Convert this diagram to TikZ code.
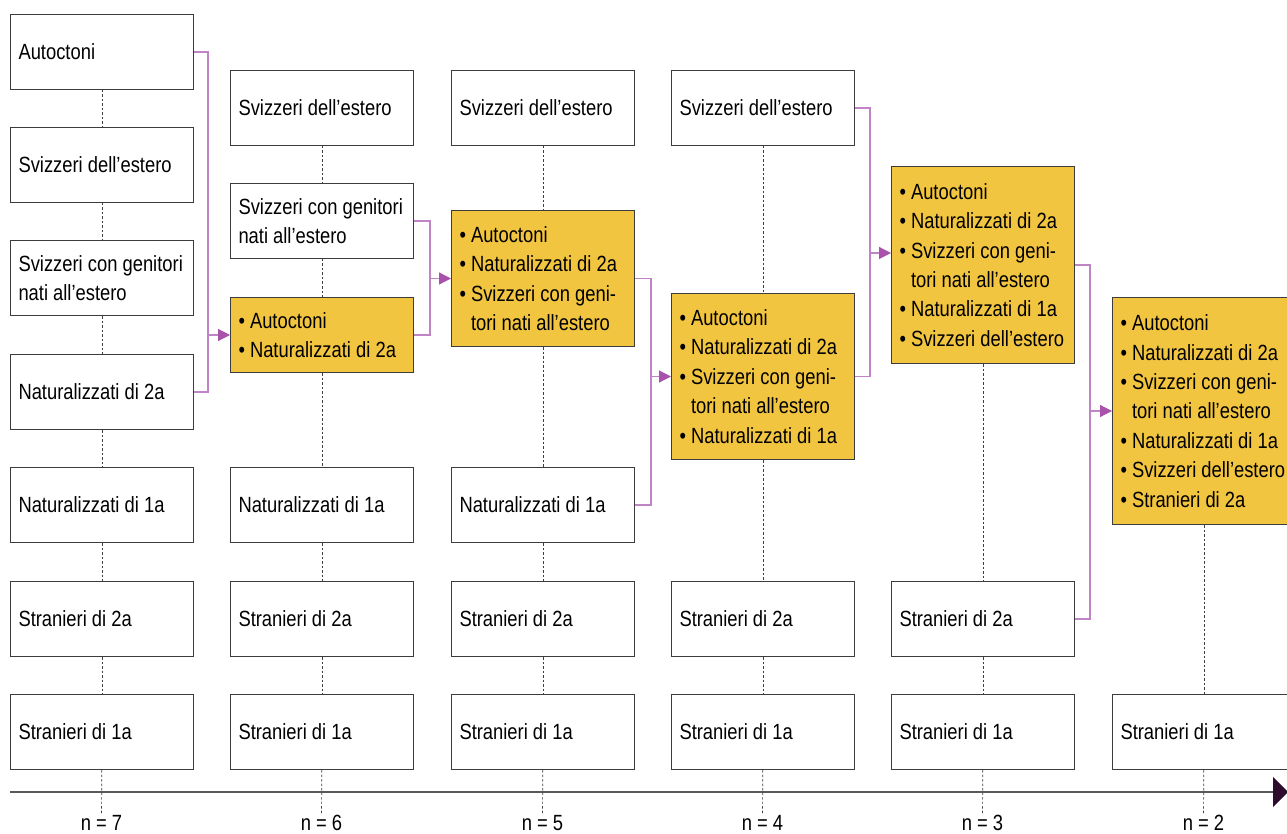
\documentclass[tikz,border=0pt]{standalone}
\usepackage{fontspec}
\setmainfont{Liberation Sans}[FakeStretch=0.835]
\usepackage{tikz}
\usetikzlibrary{arrows.meta}
\definecolor{mergefill}{RGB}{242,197,64}
\definecolor{linkline}{RGB}{192,132,198}
\definecolor{linkhead}{RGB}{168,82,172}
\definecolor{boxline}{RGB}{60,60,60}
\definecolor{axishead}{RGB}{45,12,45}
\newcommand{\itm}{\textbullet\ }

\begin{document}
\begin{tikzpicture}[x=1pt,y=-1pt
	,font=\fontsize{22}{29.4}\selectfont
	,line join=miter]
  \tikzstyle{grp}
  =[draw=boxline,line width=1pt,fill=white
  ,anchor=north west,minimum width=183pt,minimum height=75pt
  ,text width=167pt,inner xsep=8pt,inner ysep=0pt,align=flush left
  ,execute at begin node={\hyphenpenalty=10000}]
  \tikzstyle{merged}=[grp,fill=mergefill]
  \tikzstyle{vline}=[black!75,line width=0.7pt,dash pattern=on 2.5pt off 2pt]
  \tikzstyle{link}=[linkline,line width=1.2pt]
  \tikzstyle{feed}=[link,-{Triangle[length=12pt,width=12pt,color=linkhead]}]
  \tikzstyle{lab}=[anchor=base,inner sep=1pt]

  \path[use as bounding box,fill=white] (0,0) rectangle (1287,834);

  % n = 7
  \node[grp] (a7)  at (10,14)  {Autoctoni};
  \node[grp] (se7) at (10,127) {Svizzeri dell’estero};
  \node[grp] (sg7) at (10,240) {Svizzeri con genitori\\nati all’estero};
  \node[grp] (n27) at (10,354) {Naturalizzati di 2a};
  \node[grp] (n17) at (10,467) {Naturalizzati di 1a};
  \node[grp] (s27) at (10,581) {Stranieri di 2a};
  \node[grp] (s17) at (10,694) {Stranieri di 1a};
  % n = 6
  \node[grp] (se6) at (230,70)  {Svizzeri dell’estero};
  \node[grp] (sg6) at (230,183) {Svizzeri con genitori\\nati all’estero};
  \node[merged] (m6) at (230,297) {\itm Autoctoni\\\itm Naturalizzati di 2a};
  \node[grp] (n16) at (230,467) {Naturalizzati di 1a};
  \node[grp] (s26) at (230,581) {Stranieri di 2a};
  \node[grp] (s16) at (230,694) {Stranieri di 1a};
  % n = 5
  \node[grp] (se5) at (451,70)  {Svizzeri dell’estero};
  \node[merged,minimum height=136pt] (m5) at (451,210)
  {\itm Autoctoni\\\itm Naturalizzati di 2a\\\itm Svizzeri con geni-\\\hphantom{\itm}tori nati all’estero};
  \node[grp] (n15) at (451,467) {Naturalizzati di 1a};
  \node[grp] (s25) at (451,581) {Stranieri di 2a};
  \node[grp] (s15) at (451,694) {Stranieri di 1a};
  % n = 4
  \node[grp] (se4) at (671,70)  {Svizzeri dell’estero};
  \node[merged,minimum height=166pt] (m4) at (671,293)
  {\itm Autoctoni\\\itm Naturalizzati di 2a\\\itm Svizzeri con geni-\\\hphantom{\itm}tori nati all’estero\\\itm Naturalizzati di 1a};
  \node[grp] (s24) at (671,581) {Stranieri di 2a};
  \node[grp] (s14) at (671,694) {Stranieri di 1a};
  % n = 3
  \node[merged,minimum height=197pt] (m3) at (891,166)
  {\itm Autoctoni\\\itm Naturalizzati di 2a\\\itm Svizzeri con geni-\\\hphantom{\itm}tori nati all’estero\\\itm Naturalizzati di 1a\\\itm Svizzeri dell’estero};
  \node[grp] (s23) at (891,581) {Stranieri di 2a};
  \node[grp] (s13) at (891,694) {Stranieri di 1a};
  % n = 2
  \node[merged,minimum height=227pt] (m2) at (1112,297)
  {\itm Autoctoni\\\itm Naturalizzati di 2a\\\itm Svizzeri con geni-\\\hphantom{\itm}tori nati all’estero\\\itm Naturalizzati di 1a\\\itm Svizzeri dell’estero\\\itm Stranieri di 2a};
  \node[grp] (s12) at (1112,694) {Stranieri di 1a};

  % time axis
  \coordinate (ax0) at (10,792);
  \coordinate (ax1) at (1288,792);
  \draw[black!65,line width=1.8pt
  ,-{Triangle[length=15pt,width=30pt,color=axishead]}] (ax0) -- (ax1);

  \node[lab] (lab7) at (101.5,830) {n = 7};
  \node[lab] (lab6) at (321.5,830) {n = 6};
  \node[lab] (lab5) at (542.5,830) {n = 5};
  \node[lab] (lab4) at (762.5,830) {n = 4};
  \node[lab] (lab3) at (982.5,830) {n = 3};
  \node[lab] (lab2) at (1203.5,830) {n = 2};

  % verticals
  %-7
  \path[vline] (a7) edge (se7);
  \path[vline] (se7) edge (sg7);
  \path[vline] (sg7) edge (n27);
  \path[vline] (n27) edge (n17);
  \path[vline] (n17) edge (s27);
  \path[vline] (s27) edge (s17);
  \path[vline] (s17) edge (lab7);
  %-6
  \path[vline] (se6) edge (sg6);
  \path[vline] (sg6) edge (m6);
  \path[vline] (m6) edge (n16);
  \path[vline] (n16) edge (s26);
  \path[vline] (s26) edge (s16);
  \path[vline] (s16) edge (lab6);
  %-5
  \path[vline] (se5) edge (m5);
  \path[vline] (m5) edge (n15);
  \path[vline] (n15) edge (s25);
  \path[vline] (s25) edge (s15);
  \path[vline] (s15) edge (lab5);
  %-4
  \path[vline] (se4) edge (m4);
  \path[vline] (m4) edge (s24);
  \path[vline] (s24) edge (s14);
  \path[vline] (s14) edge (lab4);
  %-3
  \path[vline] (m3) edge (s23);
  \path[vline] (s23) edge (s13);
  \path[vline] (s13) edge (lab3);
  %-2
  \path[vline] (m2) edge (s12);
  \path[vline] (s12) edge (lab2);

  % merges
  \draw[link] (a7.east) -- ++(14,0) coordinate (j7) |- (n27.east);
  \draw[feed] (j7 |- m6.west) -- (m6.west);

  \draw[link] (sg6.east) -- ++(16,0) coordinate (j6) |- (m6.east);
  \draw[feed] (j6 |- m5.west) -- (m5.west);

  \draw[link] (m5.east) -- ++(16,0) coordinate (j5) |- (n15.east);
  \draw[feed] (j5 |- m4.west) -- (m4.west);

  \draw[link] (se4.east) -- ++(15,0) coordinate (j4) |- (m4.east);
  \draw[feed] ([yshift=12pt]j4 |- m3.west) -- ([yshift=12pt]m3.west);

  \draw[link] (m3.east) -- ++(15,0) coordinate (j3) |- (s23.east);
  \draw[feed] (j3 |- m2.west) -- (m2.west);

\end{tikzpicture}
\end{document}
